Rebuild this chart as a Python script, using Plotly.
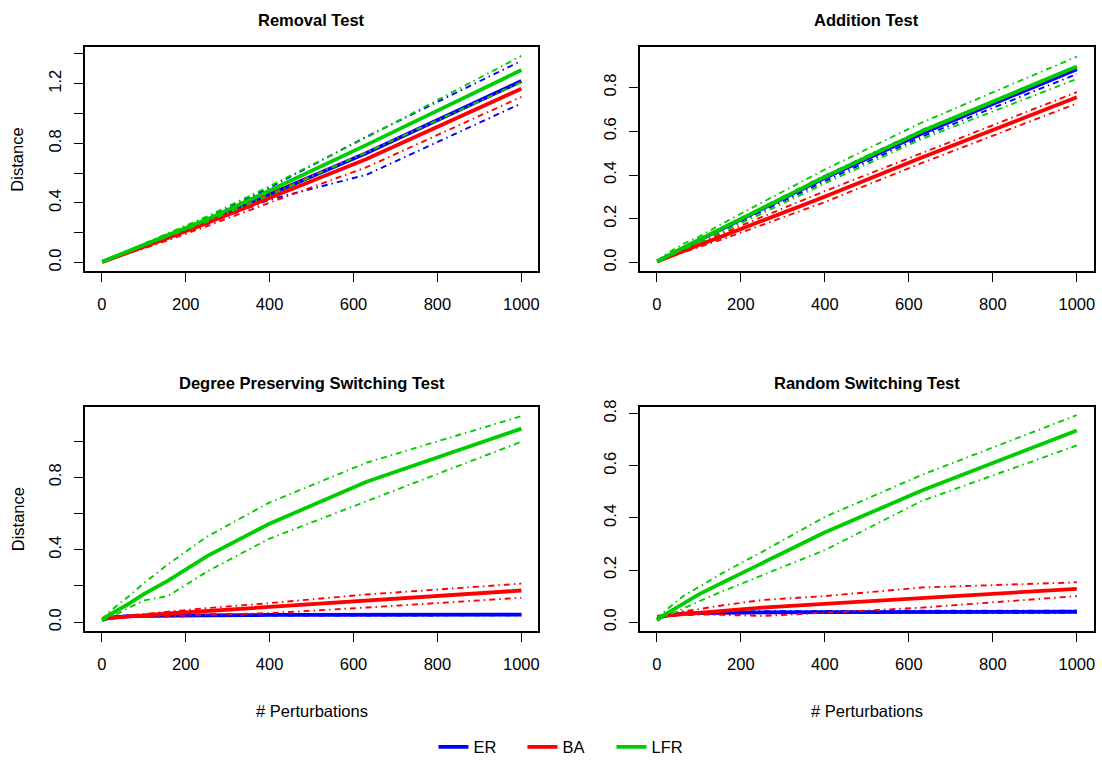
import plotly.graph_objects as go

# ---------------------------------------------------------------- data
perturbations = [1, 10, 25, 40, 63, 100, 158, 251, 398, 631, 1000]

# Removal test
rem_er_mean = [0.005, 0.014, 0.031, 0.048, 0.072, 0.110, 0.175, 0.280, 0.455, 0.735, 1.218]
rem_er_lo   = [0.004, 0.013, 0.029, 0.045, 0.068, 0.105, 0.165, 0.260, 0.420, 0.590, 1.068]
rem_er_hi   = [0.006, 0.015, 0.033, 0.051, 0.077, 0.120, 0.190, 0.300, 0.500, 0.845, 1.354]
rem_ba_mean = [0.004, 0.013, 0.029, 0.045, 0.068, 0.105, 0.165, 0.265, 0.430, 0.695, 1.167]
rem_ba_lo   = [0.003, 0.012, 0.027, 0.042, 0.063, 0.095, 0.150, 0.245, 0.400, 0.640, 1.112]
rem_ba_hi   = [0.005, 0.014, 0.031, 0.048, 0.073, 0.115, 0.180, 0.285, 0.460, 0.740, 1.210]
rem_lfr_mean = [0.006, 0.016, 0.033, 0.051, 0.077, 0.118, 0.185, 0.290, 0.480, 0.790, 1.292]
rem_lfr_lo   = [0.005, 0.015, 0.031, 0.048, 0.072, 0.110, 0.175, 0.275, 0.450, 0.740, 1.210]
rem_lfr_hi   = [0.007, 0.018, 0.036, 0.055, 0.082, 0.125, 0.195, 0.310, 0.510, 0.840, 1.387]

# Addition test
add_er_mean = [0.005, 0.014, 0.029, 0.044, 0.066, 0.102, 0.157, 0.245, 0.385, 0.590, 0.884]
add_er_lo   = [0.005, 0.013, 0.027, 0.042, 0.063, 0.097, 0.150, 0.235, 0.370, 0.575, 0.862]
add_er_hi   = [0.006, 0.015, 0.031, 0.046, 0.069, 0.106, 0.162, 0.252, 0.395, 0.605, 0.893]
add_ba_mean = [0.005, 0.012, 0.024, 0.035, 0.052, 0.080, 0.122, 0.190, 0.300, 0.480, 0.755]
add_ba_lo   = [0.004, 0.011, 0.021, 0.031, 0.046, 0.070, 0.108, 0.172, 0.275, 0.455, 0.727]
add_ba_hi   = [0.006, 0.014, 0.027, 0.039, 0.058, 0.089, 0.135, 0.210, 0.325, 0.500, 0.779]
add_lfr_mean = [0.005, 0.015, 0.030, 0.045, 0.068, 0.104, 0.160, 0.250, 0.390, 0.600, 0.896]
add_lfr_lo   = [0.004, 0.012, 0.024, 0.036, 0.056, 0.090, 0.142, 0.225, 0.360, 0.565, 0.839]
add_lfr_hi   = [0.007, 0.022, 0.042, 0.060, 0.085, 0.118, 0.180, 0.275, 0.423, 0.640, 0.941]

# Degree preserving switching test
dps_er_mean = [0.010, 0.020, 0.026, 0.030, 0.033, 0.035, 0.037, 0.038, 0.040, 0.041, 0.042]
dps_er_lo   = [0.008, 0.017, 0.022, 0.026, 0.029, 0.031, 0.033, 0.034, 0.036, 0.037, 0.038]
dps_er_hi   = [0.012, 0.024, 0.030, 0.034, 0.037, 0.039, 0.041, 0.042, 0.044, 0.045, 0.046]
dps_ba_mean = [0.020, 0.022, 0.025, 0.028, 0.032, 0.038, 0.048, 0.062, 0.080, 0.115, 0.175]
dps_ba_lo   = [0.020, 0.020, 0.022, 0.024, 0.027, 0.030, 0.034, 0.042, 0.050, 0.081, 0.135]
dps_ba_hi   = [0.020, 0.024, 0.028, 0.032, 0.038, 0.045, 0.058, 0.078, 0.105, 0.153, 0.213]
dps_lfr_mean = [0.010, 0.030, 0.050, 0.068, 0.100, 0.155, 0.230, 0.365, 0.542, 0.776, 1.069]
dps_lfr_lo   = [0.008, 0.020, 0.035, 0.050, 0.078, 0.120, 0.145, 0.280, 0.460, 0.668, 0.997]
dps_lfr_hi   = [0.012, 0.040, 0.070, 0.100, 0.140, 0.215, 0.320, 0.473, 0.659, 0.881, 1.138]

# Random switching test
rs_er_mean = [0.010, 0.020, 0.026, 0.030, 0.033, 0.035, 0.037, 0.038, 0.039, 0.040, 0.040]
rs_er_lo   = [0.008, 0.017, 0.022, 0.026, 0.029, 0.031, 0.033, 0.034, 0.035, 0.036, 0.036]
rs_er_hi   = [0.012, 0.024, 0.030, 0.034, 0.037, 0.039, 0.041, 0.042, 0.043, 0.044, 0.044]
rs_ba_mean = [0.020, 0.023, 0.026, 0.028, 0.031, 0.036, 0.045, 0.056, 0.070, 0.092, 0.128]
rs_ba_lo   = [0.020, 0.022, 0.024, 0.025, 0.027, 0.030, 0.028, 0.024, 0.036, 0.056, 0.100]
rs_ba_hi   = [0.020, 0.025, 0.030, 0.035, 0.042, 0.050, 0.065, 0.085, 0.100, 0.133, 0.153]
rs_lfr_mean = [0.008, 0.022, 0.035, 0.050, 0.073, 0.107, 0.153, 0.226, 0.343, 0.505, 0.735]
rs_lfr_lo   = [0.006, 0.016, 0.025, 0.035, 0.052, 0.080, 0.120, 0.180, 0.275, 0.465, 0.678]
rs_lfr_hi   = [0.010, 0.030, 0.050, 0.070, 0.100, 0.135, 0.190, 0.270, 0.402, 0.565, 0.794]

models = ["ER", "BA", "LFR"]
panel_titles = ["Removal Test", "Addition Test",
                "Degree Preserving Switching Test", "Random Switching Test"]

x_tickvals = [0, 200, 400, 600, 800, 1000]
x_ticktext = ["0", "200", "400", "600", "800", "1000"]
rem_y_tickvals = [0.0, 0.2, 0.4, 0.6, 0.8, 1.0, 1.2, 1.4]
rem_y_ticktext = ["0.0", "", "0.4", "", "0.8", "", "1.2", ""]
add_y_tickvals = [0.0, 0.2, 0.4, 0.6, 0.8]
add_y_ticktext = ["0.0", "0.2", "0.4", "0.6", "0.8"]
dps_y_tickvals = [0.0, 0.2, 0.4, 0.6, 0.8, 1.0]
dps_y_ticktext = ["0.0", "", "0.4", "", "0.8", ""]
rs_y_tickvals = [0.0, 0.2, 0.4, 0.6, 0.8]
rs_y_ticktext = ["0.0", "0.2", "0.4", "0.6", "0.8"]

# ---------------------------------------------------------------- layout helpers
W, H = 1102, 765
FONT = "Liberation Sans, Arial, sans-serif"
colors = {"ER": "#0000FF", "BA": "#FF0000", "LFR": "#00CD00"}
dashdot = "6px,4px,1.5px,4px"

# plot boxes in pixels: (left, right, top, bottom)
boxes = [(85.2, 539.1, 41.0, 269.0), (641.2, 1095.6, 41.0, 269.0),
         (85.2, 539.1, 407.0, 635.7), (641.2, 1095.6, 407.0, 635.7)]
y_ranges = [[-0.057, 1.445], [-0.039, 0.984], [-0.049, 1.191], [-0.034, 0.827]]
x_range = [-40, 1040]

panels = [
    dict(series={"ER": (rem_er_mean, rem_er_lo, rem_er_hi),
                 "BA": (rem_ba_mean, rem_ba_lo, rem_ba_hi),
                 "LFR": (rem_lfr_mean, rem_lfr_lo, rem_lfr_hi)},
         ytv=rem_y_tickvals, ytt=rem_y_ticktext),
    dict(series={"ER": (add_er_mean, add_er_lo, add_er_hi),
                 "BA": (add_ba_mean, add_ba_lo, add_ba_hi),
                 "LFR": (add_lfr_mean, add_lfr_lo, add_lfr_hi)},
         ytv=add_y_tickvals, ytt=add_y_ticktext),
    dict(series={"ER": (dps_er_mean, dps_er_lo, dps_er_hi),
                 "BA": (dps_ba_mean, dps_ba_lo, dps_ba_hi),
                 "LFR": (dps_lfr_mean, dps_lfr_lo, dps_lfr_hi)},
         ytv=dps_y_tickvals, ytt=dps_y_ticktext),
    dict(series={"ER": (rs_er_mean, rs_er_lo, rs_er_hi),
                 "BA": (rs_ba_mean, rs_ba_lo, rs_ba_hi),
                 "LFR": (rs_lfr_mean, rs_lfr_lo, rs_lfr_hi)},
         ytv=rs_y_tickvals, ytt=rs_y_ticktext),
]


def px_x(x):
    return x / W


def px_y(y):
    return 1 - y / H


fig = go.Figure()
annotations = []

for i, (panel, box, yr, title) in enumerate(zip(panels, boxes, y_ranges, panel_titles)):
    n = "" if i == 0 else str(i + 1)
    xa, ya = "x" + n, "y" + n
    left, right, top, bottom = box

    for m in models:
        mean, lo, hi = panel["series"][m]
        for vals, is_mean in ((mean, True), (lo, False), (hi, False)):
            fig.add_trace(go.Scatter(
                x=perturbations, y=vals, xaxis=xa, yaxis=ya, mode="lines",
                name=m, legendgroup=m,
                showlegend=(i == 0 and is_mean),
                line=dict(color=colors[m], width=3.8 if is_mean else 1.9,
                          dash="solid" if is_mean else dashdot),
            ))

    axis_common = dict(showline=True, mirror=True, linecolor="black", linewidth=1.8,
                       ticks="outside", ticklen=9, tickwidth=1.4, tickcolor="black",
                       showgrid=False, zeroline=False,
                       tickfont=dict(family=FONT, size=16.5, color="black"))
    fig.update_layout(**{
        "xaxis" + n: dict(axis_common, domain=[px_x(left), px_x(right)],
                          anchor=ya, range=x_range, tickmode="array",
                          tickvals=x_tickvals, ticktext=x_ticktext,
                          ticklabelstandoff=8),
        "yaxis" + n: dict(axis_common, domain=[px_y(bottom), px_y(top)],
                          anchor=xa, range=yr, tickmode="array",
                          tickvals=panel["ytv"], ticktext=panel["ytt"],
                          tickangle=-90, ticklabelstandoff=7),
    })

    cx = (left + right) / 2
    title_y = 13.0 if i < 2 else 383.0
    annotations.append(dict(text="<b>%s</b>" % title, x=px_x(cx), y=px_y(title_y),
                            xref="paper", yref="paper", showarrow=False,
                            xanchor="center", yanchor="middle",
                            font=dict(family=FONT, size=16.5, color="black")))
    if i % 2 == 0:
        annotations.append(dict(text="Distance", x=px_x(17.5), y=px_y((top + bottom) / 2),
                                xref="paper", yref="paper", showarrow=False,
                                textangle=-90, xanchor="center", yanchor="middle",
                                font=dict(family=FONT, size=16.5, color="black")))
    if i >= 2:
        annotations.append(dict(text="# Perturbations", x=px_x(cx), y=px_y(717.0),
                                xref="paper", yref="paper", showarrow=False,
                                xanchor="center", yanchor="middle",
                                font=dict(family=FONT, size=16.5, color="black")))

fig.update_layout(
    width=W, height=H,
    margin=dict(l=0, r=0, t=0, b=0),
    paper_bgcolor="white", plot_bgcolor="white",
    annotations=annotations,
    showlegend=True,
    legend=dict(orientation="h", x=px_x(568), y=px_y(754), xanchor="center",
                yanchor="middle", font=dict(family=FONT, size=16.5, color="black"),
                entrywidth=44, entrywidthmode="pixels",
                bgcolor="rgba(0,0,0,0)"),
    hovermode=False,
)

fig.write_html("out.html")
